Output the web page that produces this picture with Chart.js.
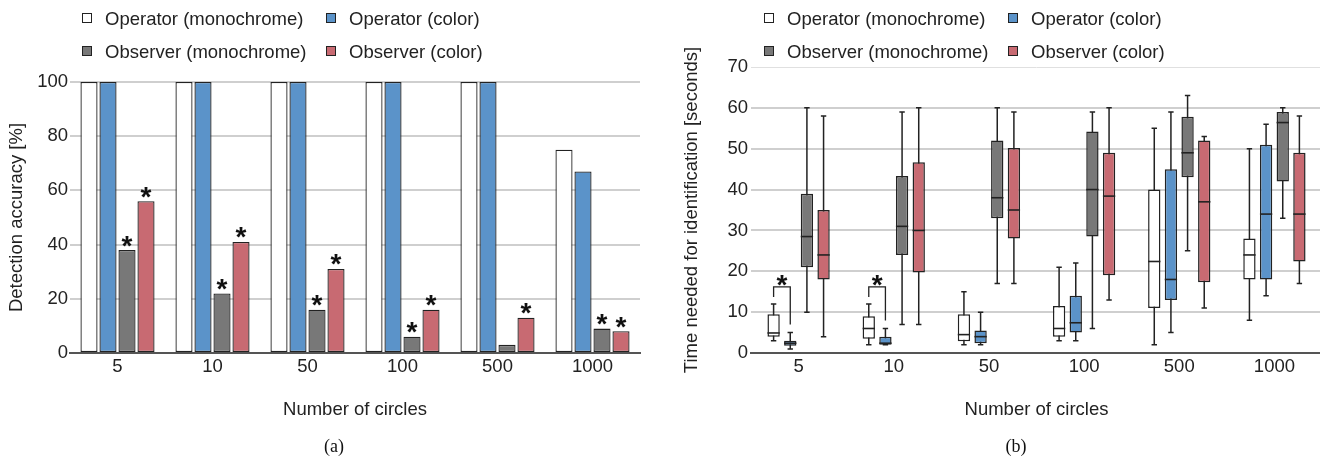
<!DOCTYPE html>
<html><head><meta charset="utf-8">
<script src="https://cdn.jsdelivr.net/npm/chart.js@4.4.1/dist/chart.umd.min.js"></script>
<style>
html,body{margin:0;padding:0;background:#fff;overflow:hidden;}
#wrap{position:relative;width:1320px;height:461px;overflow:hidden;background:#fff;}
canvas{position:absolute;top:0;}
.lg{position:absolute;height:22px;font:18.5px "Liberation Sans",Arial,Helvetica,sans-serif;color:#222;white-space:nowrap;line-height:22px;}
.lg i{position:absolute;left:0;top:5px;width:8px;height:8px;border:1.5px solid #222;}
.lg span{position:absolute;left:23px;top:0;}
.cap{position:absolute;font:18px "Liberation Serif","Times New Roman",serif;color:#111;transform:translateX(-50%);white-space:nowrap;}
</style>
</head><body>
<div id="wrap">
<canvas id="cA" width="660" height="461" style="left:0"></canvas>
<canvas id="cB" width="665" height="461" style="left:660px"></canvas>
<div class="cap" style="left:334px;top:436px">(a)</div>
<div class="cap" style="left:1016px;top:436px">(b)</div>
</div>
<script>
// ---------- data ----------
const categories = ['5', '10', '50', '100', '500', '1000'];
const seriesNames = ['Operator (monochrome)', 'Operator (color)', 'Observer (monochrome)', 'Observer (color)'];
const seriesColors = ['#ffffff', '#5b93c9', '#787878', '#c86a72'];

// (a) detection accuracy [%]
const accOpMono   = [100, 100, 100, 100, 100, 75];
const accOpColor  = [100, 100, 100, 100, 100, 67];
const accObsMono  = [38, 22, 16, 6, 3, 9];
const accObsColor = [56, 41, 31, 16, 13, 8];
// significance markers (*) per series
const accSigOpMono   = [0, 0, 0, 0, 0, 0];
const accSigOpColor  = [0, 0, 0, 0, 0, 0];
const accSigObsMono  = [1, 1, 1, 1, 0, 1];
const accSigObsColor = [1, 1, 1, 1, 1, 1];
const accTicks = [0, 20, 40, 60, 80, 100];

// (b) time needed for identification [s] : box plot statistics
const opMonoMin = [3, 2, 2, 3, 2, 8];
const opMonoQ1  = [4, 3.5, 2.9, 4, 11, 18];
const opMonoMed = [4.9, 6, 4.5, 6, 22.4, 24];
const opMonoQ3  = [9.5, 9, 9.5, 11.5, 40, 28];
const opMonoMax = [12, 12, 15, 21, 55, 50];

const opColorMin = [1, 2, 2, 3, 5, 14];
const opColorQ1  = [1.8, 2, 2.4, 5, 13, 18];
const opColorMed = [2.4, 2.4, 4, 7.4, 18, 34];
const opColorQ3  = [3, 4, 5.5, 14, 45, 51];
const opColorMax = [5, 6, 10, 22, 59, 56];

const obsMonoMin = [10, 7, 17, 6, 25, 33];
const obsMonoQ1  = [21, 24, 33, 28.5, 43, 42];
const obsMonoMed = [28.5, 31, 38, 40, 49, 56.4];
const obsMonoQ3  = [39, 43.3, 52, 54.2, 57.8, 59];
const obsMonoMax = [60, 59, 60, 59, 63, 60];

const obsColorMin = [4, 7, 17, 13, 11, 17];
const obsColorQ1  = [18, 19.7, 28, 19, 17.3, 22.4];
const obsColorMed = [24, 30, 35, 38.4, 37, 34];
const obsColorQ3  = [35, 46.7, 50.2, 49, 52, 49];
const obsColorMax = [58, 60, 59, 60, 53, 58];

// significant difference operator mono vs operator color (bracket + *)
const timeSigCategories = ['5', '10'];
const timeTicks = [0, 10, 20, 30, 40, 50, 60, 70];

// ---------- setup ----------
const FONT = '"Liberation Sans", Arial, Helvetica, sans-serif';
Chart.defaults.font.family = FONT;
Chart.defaults.font.size = 18.5;
Chart.defaults.color = '#222';

const accSeries = [accOpMono, accOpColor, accObsMono, accObsColor];
const accSig = [accSigOpMono, accSigOpColor, accSigObsMono, accSigObsColor];
const timeStats = [
  {min: opMonoMin, q1: opMonoQ1, med: opMonoMed, q3: opMonoQ3, max: opMonoMax},
  {min: opColorMin, q1: opColorQ1, med: opColorMed, q3: opColorQ3, max: opColorMax},
  {min: obsMonoMin, q1: obsMonoQ1, med: obsMonoMed, q3: obsMonoQ3, max: obsMonoMax},
  {min: obsColorMin, q1: obsColorQ1, med: obsColorMed, q3: obsColorQ3, max: obsColorMax}
];

// HTML legends (2x2)
function legend(x0) {
  const wrap = document.getElementById('wrap');
  const cols = [x0, x0 + 244];
  const rows = [7.5, 41];
  seriesNames.forEach((n, i) => {
    const d = document.createElement('div');
    d.className = 'lg';
    d.style.left = cols[i % 2] + 'px';
    d.style.top = rows[Math.floor(i / 2)] + 'px';
    const b = document.createElement('i');
    b.style.background = seriesColors[i];
    const s = document.createElement('span');
    s.textContent = n;
    d.appendChild(b); d.appendChild(s);
    wrap.appendChild(d);
  });
}
legend(82);
legend(764);

function drawStar(ctx, x, cy) {
  ctx.save();
  ctx.font = 'bold 28px ' + FONT;
  ctx.textAlign = 'center';
  ctx.textBaseline = 'alphabetic';
  ctx.fillStyle = '#111';
  ctx.fillText('*', x, cy + 16);
  ctx.restore();
}

const starPlugin = {
  id: 'stars',
  afterDatasetsDraw(chart) {
    const ctx = chart.ctx;
    accSig.forEach((flags, i) => {
      const meta = chart.getDatasetMeta(i);
      meta.data.forEach((el, j) => {
        if (flags[j]) drawStar(ctx, el.x, el.y - 11.5);
      });
    });
  }
};

const gridA = c => (c.tick && c.tick.value === 0) ? 'rgba(0,0,0,0)' : '#cfcfcf';

new Chart(document.getElementById('cA'), {
  type: 'bar',
  data: {
    labels: categories,
    datasets: accSeries.map((d, i) => ({
      label: seriesNames[i], data: d, backgroundColor: seriesColors[i],
      borderColor: '#222', borderWidth: 1.3, borderSkipped: false
    }))
  },
  options: {
    responsive: false, animation: false, events: [],
    layout: {padding: {top: 82, left: 0, right: 20, bottom: 0}},
    plugins: {legend: {display: false}, tooltip: {enabled: false}},
    scales: {
      x: {
        grid: {display: false, drawTicks: false},
        border: {display: true, color: '#555', width: 2},
        ticks: {padding: 3, color: '#222'},
        title: {display: true, text: 'Number of circles', color: '#222', padding: {top: 0, bottom: 40}},
        afterFit: s => { s.height = 108; }
      },
      y: {
        min: 0, max: 100,
        afterBuildTicks: s => { s.ticks = accTicks.map(v => ({value: v})); },
        ticks: {padding: 2, color: '#222'},
        grid: {color: gridA, lineWidth: 2, drawTicks: false},
        border: {display: false},
        title: {display: true, text: 'Detection accuracy [%]', color: '#222', padding: {top: 6, bottom: 0}},
        afterFit: s => { s.width = 70; }
      }
    }
  },
  plugins: [starPlugin]
});

const boxPlugin = {
  id: 'boxes',
  beforeDatasetsDraw(chart) {
    const ctx = chart.ctx, ys = chart.scales.y;
    ctx.save();
    ctx.strokeStyle = '#222';
    ctx.lineWidth = 1.5;
    timeStats.forEach((s, i) => {
      chart.getDatasetMeta(i).data.forEach((el, j) => {
        const x = el.x;
        const y1 = ys.getPixelForValue(s.min[j]);
        const y2 = ys.getPixelForValue(s.max[j]);
        ctx.beginPath();
        ctx.moveTo(x, y1); ctx.lineTo(x, y2);
        ctx.moveTo(x - 2.7, y1); ctx.lineTo(x + 2.7, y1);
        ctx.moveTo(x - 2.7, y2); ctx.lineTo(x + 2.7, y2);
        ctx.stroke();
      });
    });
    ctx.restore();
  },
  afterDatasetsDraw(chart) {
    const ctx = chart.ctx, ys = chart.scales.y;
    ctx.save();
    ctx.strokeStyle = '#222';
    ctx.lineWidth = 1.6;
    timeStats.forEach((s, i) => {
      chart.getDatasetMeta(i).data.forEach((el, j) => {
        const y = ys.getPixelForValue(s.med[j]);
        ctx.beginPath();
        ctx.moveTo(el.x - el.width / 2, y); ctx.lineTo(el.x + el.width / 2, y);
        ctx.stroke();
      });
    });
    // significance brackets
    const m0 = chart.getDatasetMeta(0), m1 = chart.getDatasetMeta(1);
    ctx.lineWidth = 1.3;
    timeSigCategories.forEach(cat => {
      const j = categories.indexOf(cat);
      const e0 = m0.data[j], e1 = m1.data[j];
      const p0 = ys.getPixelForValue(timeStats[0].max[j]);
      const p1 = ys.getPixelForValue(timeStats[1].max[j]);
      const top = Math.min(p0, p1) - 17;
      ctx.beginPath();
      ctx.moveTo(e0.x, p0 - 7); ctx.lineTo(e0.x, top);
      ctx.lineTo(e1.x, top); ctx.lineTo(e1.x, p1 - 8);
      ctx.stroke();
      drawStar(ctx, (e0.x + e1.x) / 2, top - 8.5);
    });
    ctx.restore();
  }
};

const gridB = c => {
  if (!c.tick) return '#cfcfcf';
  if (c.tick.value === 0) return 'rgba(0,0,0,0)';
  if (c.tick.value === 70) return '#e0e0e0';
  return '#cfcfcf';
};

new Chart(document.getElementById('cB'), {
  type: 'bar',
  data: {
    labels: categories,
    datasets: timeStats.map((s, i) => ({
      label: seriesNames[i],
      data: s.q1.map((v, j) => [v, s.q3[j]]),
      backgroundColor: seriesColors[i],
      borderColor: '#222', borderWidth: 1.5, borderSkipped: false,
      categoryPercentage: 0.70, barPercentage: 0.74
    }))
  },
  options: {
    responsive: false, animation: false, events: [],
    layout: {padding: {top: 67, left: 0, right: 3, bottom: 0}},
    plugins: {legend: {display: false}, tooltip: {enabled: false}},
    scales: {
      x: {
        grid: {display: false, drawTicks: false},
        border: {display: true, color: '#555', width: 2},
        ticks: {padding: 3, color: '#222'},
        title: {display: true, text: 'Number of circles', color: '#222', padding: {top: 0, bottom: 40}},
        afterFit: s => { s.height = 108; }
      },
      y: {
        min: 0, max: 70,
        afterBuildTicks: s => { s.ticks = timeTicks.map(v => ({value: v})); },
        ticks: {padding: 3, color: '#222'},
        grid: {color: gridB, lineWidth: c => (c.tick && c.tick.value === 70) ? 1 : 2, drawTicks: false},
        border: {display: false},
        title: {display: true, text: 'Time needed for identification [seconds]', color: '#222', padding: {top: 21, bottom: 0}},
        afterFit: s => { s.width = 91; }
      }
    }
  },
  plugins: [boxPlugin]
});
</script>
</body></html>
